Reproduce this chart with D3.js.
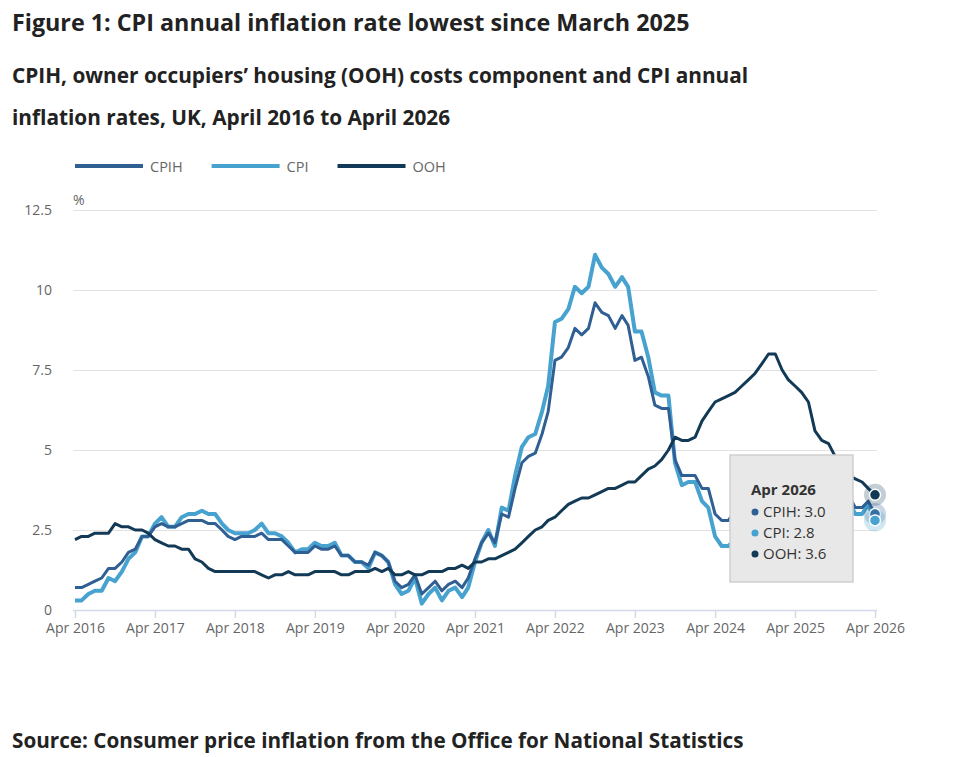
<!DOCTYPE html>
<html>
<head>
<meta charset="utf-8">
<script src="https://cdn.jsdelivr.net/npm/d3@7"></script>
<style>
  body { margin: 0; background: #fff; }
  svg { font-family: "Open Sans", sans-serif; }
</style>
</head>
<body>
<script>
// monthly series, Apr 2016 .. Apr 2026
var startMonth = new Date(2016, 3, 1);

var cpih = [
  0.7, 0.7, 0.8, 0.9, 1.0, 1.3, 1.3, 1.5, 1.8,
  1.9, 2.3, 2.3, 2.6, 2.7, 2.6, 2.6, 2.7, 2.8, 2.8, 2.8, 2.7,
  2.7, 2.5, 2.3, 2.2, 2.3, 2.3, 2.3, 2.4, 2.2, 2.2, 2.2, 2.0,
  1.8, 1.8, 1.8, 2.0, 1.9, 1.9, 2.0, 1.7, 1.7, 1.5, 1.5, 1.4,
  1.8, 1.7, 1.5, 0.9, 0.7, 0.8, 1.1, 0.5, 0.7, 0.9, 0.6, 0.8,
  0.9, 0.7, 1.0, 1.6, 2.1, 2.4, 2.1, 3.0, 2.9, 3.8, 4.6, 4.8,
  4.9, 5.5, 6.2, 7.8, 7.9, 8.2, 8.8, 8.6, 8.8, 9.6, 9.3, 9.2,
  8.8, 9.2, 8.9, 7.8, 7.9, 7.3, 6.4, 6.3, 6.3, 4.7, 4.2, 4.2,
  4.2, 3.8, 3.8, 3.0, 2.8, 2.8, 3.1, 3.1, 2.6, 3.2, 3.5, 3.5,
  3.9, 3.7, 3.4, 4.1, 4.0, 4.1, 4.2, 4.1, 4.1, 3.8, 3.6, 3.6,
  3.2, 3.2, 3.4, 3.0
];
var cpi = [
  0.3, 0.3, 0.5, 0.6, 0.6, 1.0, 0.9, 1.2, 1.6,
  1.8, 2.3, 2.3, 2.7, 2.9, 2.6, 2.6, 2.9, 3.0, 3.0, 3.1, 3.0,
  3.0, 2.7, 2.5, 2.4, 2.4, 2.4, 2.5, 2.7, 2.4, 2.4, 2.3, 2.1,
  1.8, 1.9, 1.9, 2.1, 2.0, 2.0, 2.1, 1.7, 1.7, 1.5, 1.5, 1.3,
  1.8, 1.7, 1.5, 0.8, 0.5, 0.6, 1.0, 0.2, 0.5, 0.7, 0.3, 0.6,
  0.7, 0.4, 0.7, 1.5, 2.1, 2.5, 2.0, 3.2, 3.1, 4.2, 5.1, 5.4,
  5.5, 6.2, 7.0, 9.0, 9.1, 9.4, 10.1, 9.9, 10.1, 11.1, 10.7, 10.5,
  10.1, 10.4, 10.1, 8.7, 8.7, 7.9, 6.8, 6.7, 6.7, 4.6, 3.9, 4.0,
  4.0, 3.4, 3.2, 2.3, 2.0, 2.0, 2.2, 2.2, 1.7, 2.3, 2.6, 2.5,
  3.0, 2.8, 2.6, 3.5, 3.4, 3.6, 3.8, 3.8, 3.8, 3.6, 3.2, 3.4,
  3.0, 3.0, 3.3, 2.8
];
var ooh = [
  2.2, 2.3, 2.3, 2.4, 2.4, 2.4, 2.7, 2.6, 2.6,
  2.5, 2.5, 2.4, 2.2, 2.1, 2.0, 2.0, 1.9, 1.9, 1.6, 1.5, 1.3,
  1.2, 1.2, 1.2, 1.2, 1.2, 1.2, 1.2, 1.1, 1.0, 1.1, 1.1, 1.2,
  1.1, 1.1, 1.1, 1.2, 1.2, 1.2, 1.2, 1.1, 1.1, 1.2, 1.2, 1.2,
  1.3, 1.2, 1.3, 1.1, 1.1, 1.2, 1.1, 1.1, 1.2, 1.2, 1.2, 1.3,
  1.3, 1.4, 1.3, 1.5, 1.5, 1.6, 1.6, 1.7, 1.8, 1.9, 2.1, 2.3,
  2.5, 2.6, 2.8, 2.9, 3.1, 3.3, 3.4, 3.5, 3.5, 3.6, 3.7, 3.8,
  3.8, 3.9, 4.0, 4.0, 4.2, 4.4, 4.5, 4.7, 5.0, 5.4, 5.3, 5.3,
  5.4, 5.9, 6.2, 6.5, 6.6, 6.7, 6.8, 7.0, 7.2, 7.4, 7.7, 8.0,
  8.0, 7.5, 7.2, 7.0, 6.8, 6.5, 5.6, 5.3, 5.2, 4.8, 4.5, 4.2,
  4.1, 4.0, 3.8, 3.6
];

var seriesNames = ["CPIH", "CPI", "OOH"];
var seriesColors = ["#2f5f93", "#47a2cf", "#123a56"];
var seriesWidths = [3, 4, 3];
var yTicks = [0, 2.5, 5, 7.5, 10, 12.5];
var xTickYears = [2016, 2017, 2018, 2019, 2020, 2021, 2022, 2023, 2024, 2025, 2026];

var width = 955, height = 757;
var months = cpi.map((d, i) => d3.timeMonth.offset(startMonth, i));
var series = [cpih, cpi, ooh].map((vals, k) => ({
  name: seriesNames[k], color: seriesColors[k], width: seriesWidths[k],
  values: vals.map((v, i) => ({date: months[i], value: v}))
}));

var svg = d3.select("body").append("svg")
  .attr("width", width).attr("height", height);

function heading(txt, yy, size) {
  svg.append("text").attr("x", 12).attr("y", yy)
    .style("font-size", size + "px").style("font-weight", 700).attr("fill", "#222")
    .text(txt);
}
heading("Figure 1: CPI annual inflation rate lowest since March 2025", 31, 23.3);
heading("CPIH, owner occupiers\u2019 housing (OOH) costs component and CPI annual", 83, 20.8);
heading("inflation rates, UK, April 2016 to April 2026", 125, 20.8);
heading("Source: Consumer price inflation from the Office for National Statistics", 748, 20.7);

var x = d3.scaleTime().domain([months[0], months[months.length - 1]]).range([75, 875]);
var y = d3.scaleLinear().domain([0, 12.5]).range([610, 210]);

// legend
var legendX = 75;
series.forEach(function(s) {
  var g = svg.append("g").attr("transform", `translate(${legendX},166)`);
  g.append("line").attr("x1", 0).attr("x2", 68)
    .attr("stroke", s.color).attr("stroke-width", 4);
  var t = g.append("text").attr("x", 75).attr("y", 6)
    .style("font-size", "14.5px").attr("fill", "#666").text(s.name);
  legendX += 75 + t.node().getComputedTextLength() + 29;
});

// y grid + labels
var yAxis = svg.append("g").attr("transform", "translate(73,0)")
  .call(d3.axisLeft(y).tickValues(yTicks).tickSize(-804).tickFormat(d3.format("")).tickPadding(21));
yAxis.select(".domain").remove();
yAxis.selectAll(".tick line").attr("stroke", "#e2e2e2");
yAxis.selectAll(".tick").filter(d => d === 0).select("line").remove();
yAxis.selectAll("text").style("font-size", "14px").attr("fill", "#666")
  .style("font-family", "Open Sans, sans-serif");

svg.append("text").attr("x", 73).attr("y", 205)
  .style("font-size", "14px").attr("fill", "#666").text("%");

// x axis
var xAxis = svg.append("g").attr("transform", "translate(0,610)")
  .call(d3.axisBottom(x)
    .tickValues(xTickYears.map(yr => new Date(yr, 3, 1)))
    .tickFormat(d3.timeFormat("%b %Y")).tickSize(8).tickSizeOuter(0).tickPadding(5));
xAxis.select(".domain").attr("d", "M73,0.5H877").attr("stroke", "#d3d9ea").attr("stroke-width", 1.5);
xAxis.selectAll(".tick line").attr("stroke", "#d3d9ea").attr("stroke-width", 1.5);
xAxis.selectAll("text").style("font-size", "14px").attr("fill", "#666")
  .style("font-family", "Open Sans, sans-serif");

// lines
var line = d3.line().x(d => x(d.date)).y(d => y(d.value));
var drawOrder = [1, 0, 2];
svg.append("g").selectAll("path").data(drawOrder.map(k => series[k])).join("path")
  .attr("d", d => line(d.values))
  .attr("fill", "none")
  .attr("stroke", d => d.color)
  .attr("stroke-width", d => d.width)
  .attr("stroke-linejoin", "round");

// hover markers at the last month
var markers = svg.append("g").selectAll("g").data(series).join("g")
  .attr("transform", d => {
    var p = d.values[d.values.length - 1];
    return `translate(${x(p.date)},${y(p.value)})`;
  });
markers.append("circle").attr("r", 11).attr("fill", d => d.color).attr("fill-opacity", 0.25);
markers.append("circle").attr("r", 5.5).attr("fill", d => d.color)
  .attr("stroke", "#fff").attr("stroke-width", 1.5);

// tooltip
var tip = svg.append("g").attr("transform", "translate(730,455)");
tip.append("rect").attr("width", 123).attr("height", 127)
  .attr("fill", "#e8e8e8").attr("stroke", "#cfcfcf").attr("stroke-width", 1.5);
tip.append("text").attr("x", 21).attr("y", 40)
  .style("font-size", "15px").style("font-weight", 700).attr("fill", "#333")
  .text(d3.timeFormat("%b %Y")(months[months.length - 1]));
var rows = tip.selectAll("g.row").data(series).join("g").attr("class", "row")
  .attr("transform", (d, i) => `translate(0,${62 + i * 21})`);
rows.append("circle").attr("cx", 25).attr("cy", -5).attr("r", 3.5).attr("fill", d => d.color);
rows.append("text").attr("x", 33).style("font-size", "15px").attr("fill", "#333")
  .text(d => d.name + ": " + d3.format(".1f")(d.values[d.values.length - 1].value));
</script>
</body>
</html>
